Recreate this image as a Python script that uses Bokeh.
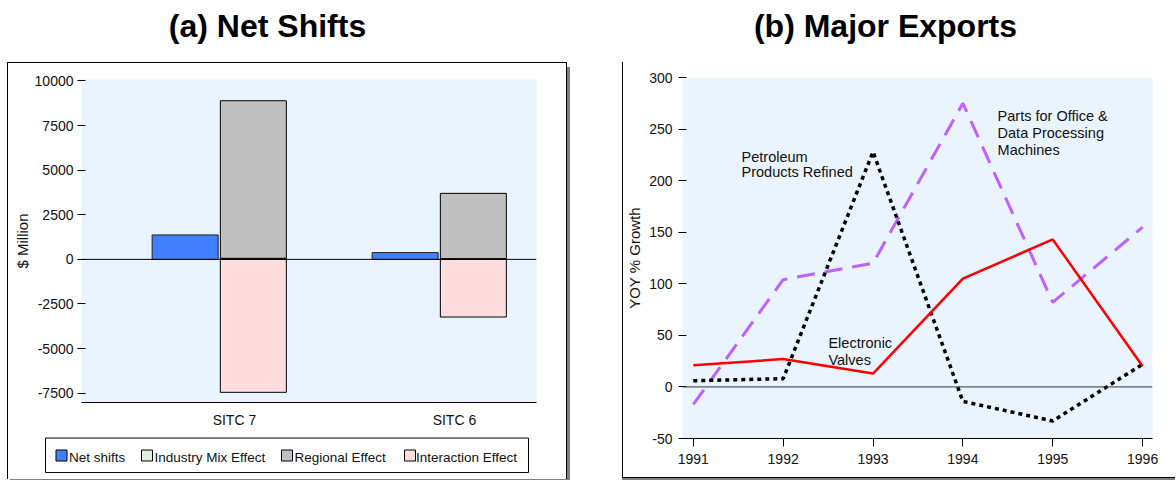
from bokeh.plotting import figure
from bokeh.models import (Range1d, FixedTicker, Span, ColumnDataSource, Label,
                          PrintfTickFormatter)
from bokeh.layouts import column, row
from bokeh.transform import dodge
from bokeh.core.properties import value
from bokeh.embed import file_html
from bokeh.resources import INLINE

FONT = "Liberation Sans"
PLOT_BG = "#EAF4FE"
INK = "#111111"

# ---- (a) Net shifts by SITC section, $ million ----
sections = ["SITC 7", "SITC 6"]
net_shifts = [1370, 380]
industry_mix = [60, 40]
regional_effect = [8830, 3660]
interaction_effect = [-7450, -3230]
legend_labels = ["Net shifts", "Industry Mix Effect", "Regional Effect", "Interaction Effect"]
bar_colors = ["#4080FF", "#DDEEDD", "#C0C0C0", "#FFDDDF"]
a_ticks = [-7500, -5000, -2500, 0, 2500, 5000, 7500, 10000]

# ---- (b) Year-on-year growth of major exports, % ----
years = [1991, 1992, 1993, 1994, 1995, 1996]
electronic_valves = [21, 27, 13, 105, 143, 20]
petroleum_refined = [6, 8, 228, -14, -33, 22]
office_parts = [-17, 104, 120, 275, 82, 155]
b_ticks = [-50, 0, 50, 100, 150, 200, 250, 300]

titles = ["(a) Net Shifts", "(b) Major Exports"]


def style_axes(p, size, label_size):
    for ax in p.axis:
        ax.major_label_text_font = FONT
        ax.major_label_text_font_size = size
        ax.major_label_text_color = INK
        ax.axis_label_text_font = FONT
        ax.axis_label_text_font_size = label_size
        ax.axis_label_text_font_style = "normal"
        ax.axis_label_text_color = INK
        ax.minor_tick_line_color = None
    p.xgrid.visible = False
    p.ygrid.visible = False


def blank(width, height):
    """A figure whose frame fills the canvas, with pixel-sized data units."""
    f = figure(frame_width=width, frame_height=height, output_backend="svg",
               toolbar_location=None, x_range=Range1d(0, width),
               y_range=Range1d(0, height), x_axis_type=None, y_axis_type=None,
               outline_line_color=None, min_border=0)
    f.xgrid.visible = False
    f.ygrid.visible = False
    f.frame_align = False
    return f


# ---------- heading strip ----------
head = blank(1176, 62)
head.text(x=[267, 885], y=[36.5, 36.5], text=titles,
          text_font=value(FONT), text_font_style="bold", text_font_size="32px",
          text_align="center", text_baseline="middle", text_color="#000000")

# ---------- (a) Net Shifts ----------
src_a = ColumnDataSource(dict(pos=list(range(len(sections))), net=net_shifts,
                              industry=industry_mix, regional=regional_effect,
                              interaction=interaction_effect))

pa = figure(frame_width=455, frame_height=323, output_backend="svg",
            toolbar_location=None,
            x_range=Range1d(-0.695, 1.373), y_range=Range1d(-8020, 10080),
            min_border_left=73, min_border_right=30, min_border_top=16,
            min_border_bottom=30, background_fill_color=PLOT_BG,
            outline_line_color=None)
pa.frame_align = False

pa.vbar(x=dodge("pos", -0.224), top="net", bottom=0, width=0.3,
        source=src_a, fill_color=bar_colors[0], line_color="#222222")
pa.vbar_stack(["industry", "regional"], x=dodge("pos", 0.086), width=0.3,
              source=src_a, fill_color=bar_colors[1:3], line_color="#000000")
pa.vbar(x=dodge("pos", 0.086), top="interaction", bottom=0, width=0.3,
        source=src_a, fill_color=bar_colors[3], line_color="#000000")

pa.add_layout(Span(location=0, dimension="width", line_color="#000000", line_width=1))

pa.xaxis.ticker = FixedTicker(ticks=list(range(len(sections))))
pa.xaxis.major_label_overrides = {i: s for i, s in enumerate(sections)}
pa.xaxis.major_tick_line_color = None
pa.xaxis.axis_line_color = "#000000"
pa.xaxis.major_label_standoff = 3

pa.yaxis.ticker = FixedTicker(ticks=a_ticks)
pa.yaxis.formatter = PrintfTickFormatter(format="%d")
pa.yaxis.axis_line_color = None
pa.yaxis.major_tick_out = 4
pa.yaxis.major_tick_in = 4
pa.yaxis.major_label_standoff = 4
pa.yaxis.axis_label = "$ Million"
pa.yaxis.axis_label_standoff = 1
style_axes(pa, "14px", "15px")

# legend strip under panel (a): boxed row of swatches and labels
leg = blank(558, 47)
leg.rect(x=[278.5], y=[24.2], width=[483], height=[34.5],
         fill_color="#FFFFFF", line_color="#000000", line_width=1)
swatch_x = [53, 138.5, 278.5, 401.5]
label_x = [60.5, 146, 286, 407.5]
leg.rect(x=swatch_x, y=[24] * 4, width=[11] * 4, height=[11] * 4,
         fill_color=bar_colors, line_color="#000000", line_width=1)
leg.text(x=label_x, y=[22] * 4, text=legend_labels, text_font=value(FONT),
         text_font_size="13.5px", text_color=INK, text_align="left",
         text_baseline="middle")

panel_a = column(pa, leg)
panel_a.styles = {"border-left": "1px solid #000", "border-top": "1px solid #000",
                  "border-right": "1.5px solid #000", "box-shadow": "3px 5px 0 #808080"}
panel_a.margin = (0, 0, 0, 7)

# ---------- (b) Major Exports ----------
pb = figure(frame_width=469, frame_height=360, output_backend="svg",
            toolbar_location=None,
            x_range=Range1d(1990.88, 1996.11), y_range=Range1d(-50, 300),
            min_border_left=59, min_border_right=24, min_border_top=15,
            min_border_bottom=40, background_fill_color=PLOT_BG,
            outline_line_color=None)
pb.frame_align = False

pb.add_layout(Span(location=0, dimension="width", line_color="#333333", line_width=1))
pb.line(years, office_parts, line_color="#BF60FF", line_width=3, line_dash="18 10")
pb.line(years, petroleum_refined, line_color="#000000", line_width=3.5, line_dash="4 4")
pb.line(years, electronic_valves, line_color="#FF0000", line_width=2.5)

pb.xaxis.ticker = FixedTicker(ticks=years)
pb.xaxis.axis_line_color = "#000000"
pb.xaxis.major_tick_out = 8
pb.xaxis.major_tick_in = 0
pb.xaxis.major_label_standoff = 7

pb.yaxis.ticker = FixedTicker(ticks=b_ticks)
pb.yaxis.formatter = PrintfTickFormatter(format="%d")
pb.yaxis.axis_line_color = None
pb.yaxis.major_tick_out = 4
pb.yaxis.major_tick_in = 4
pb.yaxis.major_label_standoff = 6
pb.yaxis.axis_label = "YOY % Growth"
pb.yaxis.axis_label_standoff = 3
style_axes(pb, "14px", "15px")

# series notes, one Label per line
notes = [
    (1991.537, [223.3, 208.0], ["Petroleum", "Products Refined"]),
    (1994.386, [262.7, 246.3, 230.1], ["Parts for Office &", "Data Processing", "Machines"]),
    (1992.504, [43.0, 26.0], ["Electronic", "Valves"]),
]
for nx, ny_list, lines in notes:
    for ny, txt in zip(ny_list, lines):
        pb.add_layout(Label(x=nx, y=ny, text=txt, text_font=FONT,
                            text_font_size="14.5px", text_color=INK,
                            text_baseline="middle", text_align="left"))

pb.styles = {"border-left": "1.5px solid #000", "border-bottom": "1.5px solid #000",
             "box-shadow": "0 3px 0 #808080"}
pb.margin = (0, 0, 0, 55)

layout = column(head, row(panel_a, pb))
open("out.html", "w").write(file_html(layout, INLINE))
